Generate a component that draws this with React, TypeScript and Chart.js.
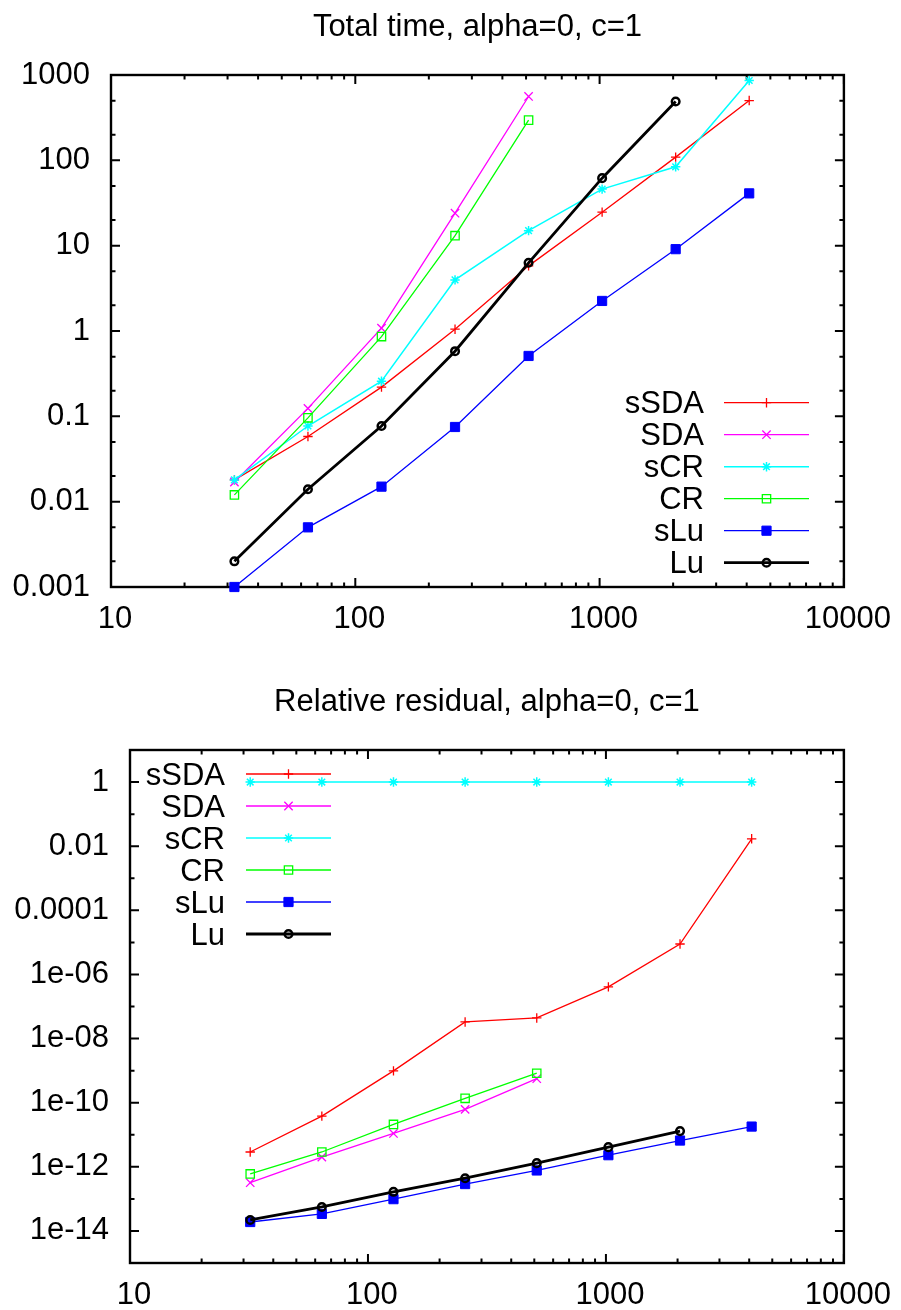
import React, { useEffect, useRef } from 'react';
import { Chart, registerables } from 'chart.js';
import * as helpers from 'chart.js/helpers';

Chart.register(...registerables);

// ---------- data ----------
const nValues = [32, 64, 128, 256, 512, 1024, 2048, 4096];
const seriesNames = ['sSDA', 'SDA', 'sCR', 'CR', 'sLu', 'Lu'];

// Total time
const sSDATime = [0.018, 0.058, 0.22, 1.05, 5.8, 24.7, 109, 502];
const SDATime = [0.017, 0.124, 1.08, 24, 560];
const sCRTime = [0.018, 0.077, 0.258, 3.97, 15, 46, 84, 862];
const CRTime = [0.012, 0.096, 0.86, 13.1, 296];
const sLuTime = [0.001, 0.005, 0.015, 0.075, 0.51, 2.25, 9.1, 41];
const LuTime = [0.002, 0.014, 0.077, 0.58, 6.3, 61.8, 489];

// Relative residual
const sSDARes = [2.9e-12, 3.8e-11, 9.8e-10, 3.3e-8, 4.4e-8, 4.1e-7, 8.9e-6, 0.017];
const SDARes = [3.2e-13, 2.0e-12, 1.1e-11, 6.2e-11, 5.6e-10];
const sCRRes = [1, 1, 1, 1, 1, 1, 1, 1];
const CRRes = [6.0e-13, 2.9e-12, 2.1e-11, 1.37e-10, 8.3e-10];
const sLuRes = [1.9e-14, 3.4e-14, 9.8e-14, 2.9e-13, 7.7e-13, 2.3e-12, 6.6e-12, 1.8e-11];
const LuRes = [2.2e-14, 5.6e-14, 1.66e-13, 4.4e-13, 1.3e-12, 4.1e-12, 1.3e-11];

// ticks
const xTickValues = [10, 100, 1000, 10000];
const xTickLabels = ['10', '100', '1000', '10000'];
const xMinorFactors = [2, 3, 4, 5, 6, 7, 8, 9];

const timeYTickValues = [0.001, 0.01, 0.1, 1, 10, 100, 1000];
const timeYTickLabels = ['0.001', '0.01', '0.1', '1', '10', '100', '1000'];
const timeYMinorFactors = [2, 5];

const resYTickValues = [1e-14, 1e-12, 1e-10, 1e-8, 1e-6, 1e-4, 1e-2, 1];
const resYTickLabels = ['1e-14', '1e-12', '1e-10', '1e-08', '1e-06', '0.0001', '0.01', '1'];
const resYMinorValues = [1e-15, 1e-13, 1e-11, 1e-9, 1e-7, 1e-5, 1e-3, 1e-1, 10];

const timeTitle = 'Total time, alpha=0, c=1';
const resTitle = 'Relative residual, alpha=0, c=1';

// ---------- styles ----------
const FONT_FAMILY = '"Liberation Sans", Arial, Helvetica, sans-serif';
const FONT_SIZE = 31;
const FONT = `${FONT_SIZE}px ${FONT_FAMILY}`;

const colors = ['#ff0000', '#ff00ff', '#00ffff', '#00ff00', '#0000ff', '#000000'];
const lineWidths = [1.3, 1.3, 1.5, 1.3, 1.3, 2.8];
const pointStyles = ['cross', 'crossRot', 'star', 'rect', 'rect', 'circle'];
const pointRadii = [4.7, 5.9, 4.7, 5.9, 6.5, 3.8];
const pointBorderWidths = [1.3, 1.3, 1.5, 1.3, 1, 2.5];
const pointFills = ['rgba(0,0,0,0)', 'rgba(0,0,0,0)', 'rgba(0,0,0,0)', 'rgba(0,0,0,0)', '#0000ff', 'rgba(0,0,0,0)'];

function decadeMinors(from: number, to: number, factors: number[]) {
  const out: number[] = [];
  for (let d = from; d < to; d *= 10) factors.forEach((f) => out.push(d * f));
  return out;
}

const gnuFrame = {
  id: 'gnuFrame',
  beforeDatasetsDraw(chart: any, _args: any, opts: any) {
    const { ctx, chartArea: a } = chart;
    const xs = chart.scales.x;
    const ys = chart.scales.y;
    ctx.save();
    ctx.strokeStyle = '#000';
    ctx.lineWidth = 2;
    const major = 9;
    const minor = 4.5;
    const xt = (v: number, len: number) => {
      const px = xs.getPixelForValue(v);
      ctx.beginPath();
      ctx.moveTo(px, a.bottom);
      ctx.lineTo(px, a.bottom - len);
      ctx.moveTo(px, a.top);
      ctx.lineTo(px, a.top + len);
      ctx.stroke();
    };
    const yt = (v: number, len: number) => {
      const py = ys.getPixelForValue(v);
      ctx.beginPath();
      ctx.moveTo(a.left, py);
      ctx.lineTo(a.left + len, py);
      ctx.moveTo(a.right, py);
      ctx.lineTo(a.right - len, py);
      ctx.stroke();
    };
    opts.xMajor.forEach((v: number) => xt(v, major));
    opts.xMinor.forEach((v: number) => xt(v, minor));
    opts.yMajor.forEach((v: number) => yt(v, major));
    opts.yMinor.forEach((v: number) => yt(v, minor));
    ctx.lineWidth = 2.4;
    ctx.strokeRect(a.left, a.top, a.right - a.left, a.bottom - a.top);
    ctx.restore();
  },
  afterDraw(chart: any, _args: any, opts: any) {
    const { ctx, chartArea: a } = chart;
    ctx.save();
    ctx.font = FONT;
    ctx.fillStyle = '#000';
    ctx.textAlign = 'center';
    ctx.textBaseline = 'middle';
    ctx.fillText(opts.title, (a.left + a.right) / 2, opts.titleY);

    const lg = opts.legend;
    chart.data.datasets.forEach((ds: any, i: number) => {
      const y = lg.y0 + i * lg.dy;
      ctx.font = FONT;
      ctx.fillStyle = '#000';
      ctx.textAlign = 'right';
      ctx.textBaseline = 'middle';
      ctx.fillText(ds.label, lg.textRight, y + 2);
      ctx.strokeStyle = ds.borderColor;
      ctx.lineWidth = ds.borderWidth;
      ctx.beginPath();
      ctx.moveTo(lg.x1, y);
      ctx.lineTo(lg.x2, y);
      ctx.stroke();
      ctx.fillStyle = ds.pointBackgroundColor;
      ctx.strokeStyle = ds.borderColor;
      ctx.lineWidth = ds.pointBorderWidth;
      helpers.drawPoint(
        ctx,
        { pointStyle: ds.pointStyle, radius: ds.pointRadius, rotation: 0, borderWidth: ds.pointBorderWidth } as any,
        (lg.x1 + lg.x2) / 2,
        y
      );
    });
    ctx.restore();
  },
};

type PanelSpec = {
  values: number[][];
  title: string;
  titleY: number;
  yMin: number;
  yMax: number;
  yTicks: number[];
  yLabels: string[];
  yMinor: number[];
  area: { left: number; top: number; right: number; bottom: number };
  legend: { textRight: number; x1: number; x2: number; y0: number; dy: number };
};

const W = 901;
const H = 655;

const timeSpec: PanelSpec = {
  values: [sSDATime, SDATime, sCRTime, CRTime, sLuTime, LuTime],
  title: timeTitle,
  titleY: 27,
  yMin: 0.001,
  yMax: 1000,
  yTicks: timeYTickValues,
  yLabels: timeYTickLabels,
  yMinor: decadeMinors(0.001, 1000, timeYMinorFactors),
  area: { left: 111, top: 75, right: 848, bottom: 587 },
  legend: { textRight: 704, x1: 724, x2: 809, y0: 402.7, dy: 32 },
};

const resSpec: PanelSpec = {
  values: [sSDARes, SDARes, sCRRes, CRRes, sLuRes, LuRes],
  title: resTitle,
  titleY: 47,
  yMin: 1e-15,
  yMax: 10,
  yTicks: resYTickValues,
  yLabels: resYTickLabels,
  yMinor: resYMinorValues,
  area: { left: 130, top: 95, right: 848, bottom: 608 },
  legend: { textRight: 225, x1: 246, x2: 331, y0: 119, dy: 32 },
};

function makeConfig(p: PanelSpec): any {
  const tickFont = { family: FONT_FAMILY, size: FONT_SIZE };
  return {
    type: 'line',
    data: {
      datasets: seriesNames.map((name, i) => ({
        label: name,
        data: p.values[i].map((v, j) => ({ x: nValues[j], y: v })),
        borderColor: colors[i],
        backgroundColor: pointFills[i],
        borderWidth: lineWidths[i],
        pointStyle: pointStyles[i],
        pointRadius: pointRadii[i],
        pointBorderWidth: pointBorderWidths[i],
        pointBackgroundColor: pointFills[i],
        pointBorderColor: colors[i],
        pointHoverRadius: pointRadii[i],
        fill: false,
        tension: 0,
        clip: false,
        order: seriesNames.length - i,
      })),
    },
    options: {
      responsive: false,
      animation: false,
      events: [],
      layout: { padding: { left: 0, top: p.area.top, right: W - p.area.right, bottom: 0 } },
      plugins: {
        legend: { display: false },
        title: { display: false },
        tooltip: { enabled: false },
        gnuFrame: {
          title: p.title,
          titleY: p.titleY,
          legend: p.legend,
          xMajor: xTickValues,
          xMinor: decadeMinors(10, 10000, xMinorFactors),
          yMajor: p.yTicks,
          yMinor: p.yMinor,
        },
      },
      scales: {
        x: {
          type: 'logarithmic',
          min: 10,
          max: 10000,
          grid: { display: false, drawTicks: false },
          border: { display: false },
          ticks: {
            font: tickFont,
            color: '#000',
            padding: 14,
            labelOffset: 4,
            autoSkip: false,
            maxRotation: 0,
            callback: (_v: any, idx: number) => xTickLabels[idx],
          },
          afterBuildTicks: (s: any) => {
            s.ticks = xTickValues.map((v) => ({ value: v }));
          },
          afterFit: (s: any) => {
            s.height = H - p.area.bottom;
          },
        },
        y: {
          type: 'logarithmic',
          min: p.yMin,
          max: p.yMax,
          grid: { display: false, drawTicks: false },
          border: { display: false },
          ticks: {
            font: tickFont,
            color: '#000',
            padding: 21,
            autoSkip: false,
            callback: (_v: any, idx: number) => p.yLabels[idx],
          },
          afterBuildTicks: (s: any) => {
            s.ticks = p.yTicks.map((v) => ({ value: v }));
          },
          afterFit: (s: any) => {
            s.width = p.area.left;
          },
        },
      },
    },
    plugins: [gnuFrame],
  };
}

function Panel({ spec, top }: { spec: PanelSpec; top: number }) {
  const ref = useRef<HTMLCanvasElement>(null);
  useEffect(() => {
    const chart = new Chart(ref.current as HTMLCanvasElement, makeConfig(spec));
    return () => chart.destroy();
  }, [spec]);
  return (
    <canvas
      ref={ref}
      width={W}
      height={H}
      style={{ position: 'absolute', left: 0, top, width: W, height: H, display: 'block' }}
    />
  );
}

export default function App() {
  return (
    <div style={{ position: 'absolute', left: 0, top: 0, width: W, height: 1310, background: '#fff' }}>
      <Panel spec={timeSpec} top={0} />
      <Panel spec={resSpec} top={H} />
    </div>
  );
}
